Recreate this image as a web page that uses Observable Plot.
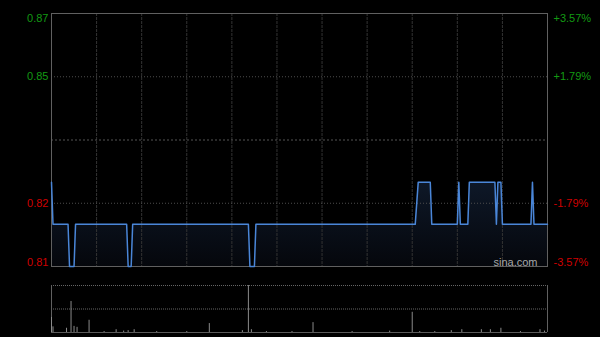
<!DOCTYPE html>
<html><head><meta charset="utf-8">
<script src="https://cdn.jsdelivr.net/npm/d3@7"></script>
<script src="https://cdn.jsdelivr.net/npm/@observablehq/plot@0.6"></script>
<style>
html,body{margin:0;padding:0;background:#000;}
#chart{width:600px;height:337px;background:#000;overflow:hidden;}
#chart svg{display:block;}
</style></head><body><div id="chart"></div>
<script>
// Intraday (HK session, 330 trading minutes) price change points
const minutes = [0,1,11,12,15,16,50,51,53,54,131,132,135,136,242,244,252,253,270,271,272,277,278,295,296,297,299,300,319,320,321,330];
const prices  = [0.83,0.82,0.82,0.81,0.81,0.82,0.82,0.81,0.81,0.82,0.82,0.81,0.81,0.82,0.82,0.83,0.83,0.82,0.82,0.83,0.82,0.82,0.83,0.83,0.82,0.83,0.83,0.82,0.82,0.83,0.82,0.82];
const prevClose = 0.84;
const sessionMinutes = 330;
const gridMinutes = [30,60,90,120,150,180,210,240,270,300];
const priceTicks = [0.87, 0.855, 0.825, 0.81];
const priceTickLabels = ["0.87","0.85","0.82","0.81"];
const pctTickLabels = ["+3.57%","+1.79%","-1.79%","-3.57%"];
// Volume (relative units, max = 100)
const volMinutes = [0,1,10,13,15,17,25,35,43,48,51,55,70,90,105,127,131,133,143,160,174,200,225,240,245,255,266,273,286,292,299,312,325,328];
const volValues  = [32,12,9,66,13,11,26,2,6,3,4,6,2,2,19,4,100,6,2,2,21,2,3,43,2,2,4,6,6,6,9,2,6,3];

const green = "#139a13", red = "#d00000";
const font = "'Liberation Sans', Arial, sans-serif";
const data = minutes.map((m, i) => ({m, p: prices[i]}));
const yMax = priceTicks[0], yMin = priceTicks[priceTicks.length - 1];
const ticks = priceTicks.map((v, i) => ({v, l: priceTickLabels[i], r: pctTickLabels[i], c: v > prevClose ? green : red}));

function labels(rows, anchor, dy) {
  const opts = {y: "v", fill: "c", fontSize: 11, lineAnchor: anchor, dy};
  return [
    Plot.text(rows, {...opts, text: "l", frameAnchor: "left", dx: -3, textAnchor: "end"}),
    Plot.text(rows, {...opts, text: "r", frameAnchor: "right", dx: 6, textAnchor: "start"})
  ];
}

const main = Plot.plot({
  width: 600, height: 270, marginTop: 13, marginBottom: 4, marginLeft: 51, marginRight: 53,
  style: {background: "#000", fontFamily: font, fontSize: "11px"},
  color: {type: "identity"},
  x: {domain: [0, sessionMinutes], axis: null},
  y: {domain: [yMin, yMax], axis: null},
  marks: [
    Plot.areaY(data, {x: "m", y1: yMin, y2: "p", fill: "url(#priceFill)"}),
    Plot.ruleX(gridMinutes, {stroke: "#333", strokeDasharray: "3,1"}),
    Plot.ruleY([priceTicks[1], priceTicks[2]], {stroke: "#4c4c4c", strokeDasharray: "1,2"}),
    Plot.ruleY([prevClose], {stroke: "#555", strokeDasharray: "2,2"}),
    Plot.frame({stroke: "#606060"}),
    Plot.line(data, {x: "m", y: "p", stroke: "#4a86d8", strokeWidth: 1.5}),
    ...labels([ticks[0]], "top", 1),
    ...labels([ticks[1], ticks[2]], "middle", 0),
    ...labels([ticks[3]], "bottom", -1),
    Plot.text(["sina.com"], {text: d => d, frameAnchor: "bottom-right", dx: -10, dy: -1, lineAnchor: "bottom", fill: "#a8a8a8", fontSize: 11})
  ]
});
d3.select(main).insert("defs", ":first-child").html(
  '<linearGradient id="priceFill" x1="0" y1="0" x2="0" y2="1">' +
  '<stop offset="0" stop-color="#0e1828"/><stop offset="1" stop-color="#05070c"/></linearGradient>');

const vol = volMinutes.map((m, i) => ({m, v: volValues[i]}));
const volMax = d3.max(volValues);
const volume = Plot.plot({
  width: 600, height: 67, marginTop: 15, marginBottom: 5, marginLeft: 51, marginRight: 53,
  style: {background: "#000", fontFamily: font},
  x: {domain: [0, sessionMinutes], axis: null},
  y: {domain: [0, volMax], axis: null},
  marks: [
    Plot.ruleY([volMax, volMax / 2], {stroke: "#666", strokeDasharray: "1,1"}),
    Plot.ruleY([0], {stroke: "#5a5a5a"}),
    Plot.ruleX([0, sessionMinutes], {stroke: "#606060"}),
    Plot.ruleX(vol, {x: "m", y1: 0, y2: "v", stroke: "#8a8a8a"})
  ]
});

const root = document.getElementById("chart");
root.appendChild(main);
root.appendChild(volume);
</script>
</body></html>
